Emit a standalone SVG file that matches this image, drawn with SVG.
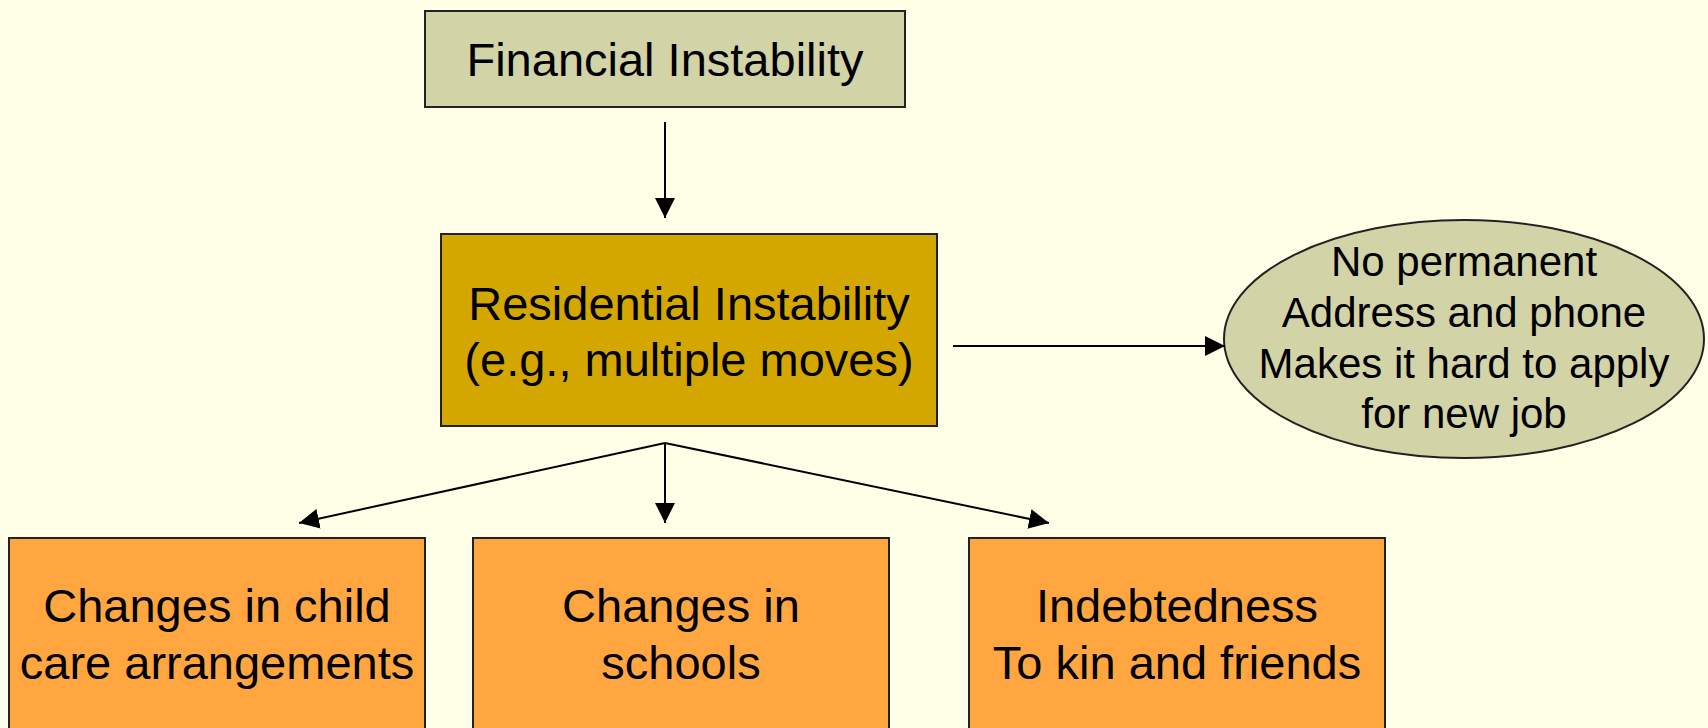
<svg xmlns="http://www.w3.org/2000/svg" width="1708" height="728" viewBox="0 0 1708 728">
<defs>
<marker id="arr" markerUnits="userSpaceOnUse" markerWidth="20" markerHeight="20" refX="20" refY="10" orient="auto" viewBox="0 0 20 20">
<path d="M0,0 L20,10 L0,20 z" fill="#000"/>
</marker>
</defs>
<style>
.box{stroke:#222;stroke-width:2}
.t{font-family:"Liberation Sans",Arial,sans-serif;font-size:47px;fill:#000;text-anchor:middle}
.te{font-family:"Liberation Sans",Arial,sans-serif;font-size:42px;fill:#000;text-anchor:middle}
.c{stroke:#000;stroke-width:2;fill:none;marker-end:url(#arr)}
</style>
<rect x="0" y="0" width="1708" height="728" fill="#FFFFE8"/>
<g id="financial">
<rect class="box" x="425" y="11" width="480" height="96" fill="#D3D3A8"/>
<text class="t" x="665" y="76">Financial Instability</text>
</g>
<g id="residential">
<rect class="box" x="441" y="234" width="496" height="192" fill="#D4A700"/>
<text class="t" x="689" y="320">Residential Instability</text>
<text class="t" x="689" y="376">(e.g., multiple moves)</text>
</g>
<g id="noaddress">
<ellipse class="box" cx="1464" cy="339" rx="240" ry="119" fill="#D3D3A8"/>
<text class="te" x="1464" y="276">No permanent</text>
<text class="te" x="1464" y="327">Address and phone</text>
<text class="te" x="1464" y="378">Makes it hard to apply</text>
<text class="te" x="1464" y="428">for new job</text>
</g>
<g id="childcare">
<rect class="box" x="9" y="538" width="416" height="210" fill="#FFA640"/>
<text class="t" x="217" y="622">Changes in child</text>
<text class="t" x="217" y="679">care arrangements</text>
</g>
<g id="schools">
<rect class="box" x="473" y="538" width="416" height="210" fill="#FFA640"/>
<text class="t" x="681" y="622">Changes in</text>
<text class="t" x="681" y="679">schools</text>
</g>
<g id="indebtedness">
<rect class="box" x="969" y="538" width="416" height="210" fill="#FFA640"/>
<text class="t" x="1177" y="622">Indebtedness</text>
<text class="t" x="1177" y="679">To kin and friends</text>
</g>
<g id="connectors">
<line class="c" x1="665" y1="122" x2="665" y2="218"/>
<line class="c" x1="953" y1="346" x2="1225" y2="346"/>
<line class="c" x1="665" y1="443" x2="299" y2="523"/>
<line class="c" x1="665" y1="443" x2="665" y2="523"/>
<line class="c" x1="665" y1="443" x2="1049" y2="523"/>
</g>
</svg>
